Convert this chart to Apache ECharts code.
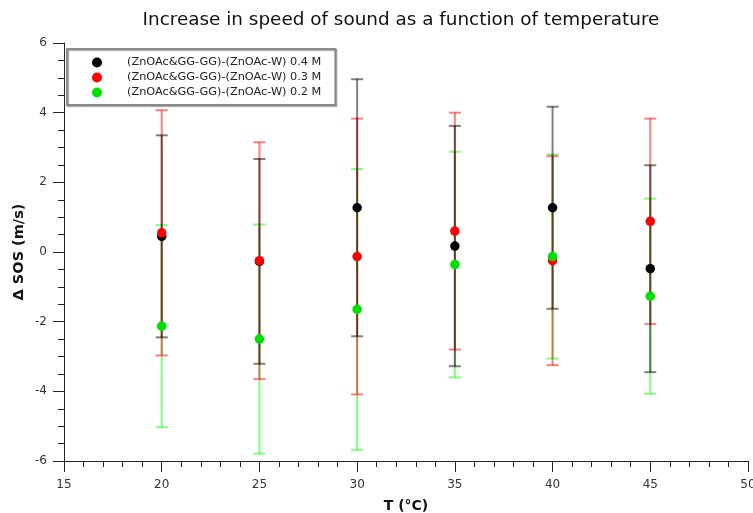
<!DOCTYPE html>
<html>
<head>
<meta charset="utf-8">
<script src="https://cdn.jsdelivr.net/npm/echarts@6/dist/echarts.min.js"></script>
<style>
html,body{margin:0;padding:0;background:#fff;}
#chart{width:753px;height:513px;}
</style>
</head>
<body>
<div id="chart"></div>
<script>
// ---- data ----
var temperatures = [20, 25, 30, 35, 40, 45];
var seriesNames = [
  '(ZnOAc&GG-GG)-(ZnOAc-W) 0.4 M',
  '(ZnOAc&GG-GG)-(ZnOAc-W) 0.3 M',
  '(ZnOAc&GG-GG)-(ZnOAc-W) 0.2 M'
];
var sos04 = [0.45, -0.27, 1.27, 0.17, 1.27, -0.48];
var err04 = [2.90, 2.94, 3.69, 3.45, 2.90, 2.97];
var sos03 = [0.55, -0.25, -0.13, 0.60, -0.25, 0.88];
var err03 = [3.52, 3.40, 3.96, 3.40, 3.00, 2.95];
var sos02 = [-2.13, -2.50, -1.65, -0.36, -0.13, -1.27];
var err02 = [2.90, 3.29, 4.03, 3.24, 2.93, 2.80];
var xTicks = { min: 15, max: 50, interval: 5 };
var yTicks = { min: -6, max: 6, interval: 2 };

var FONT = '"DejaVu Sans", Verdana, sans-serif';
var pointColors = ['#000000', '#ff0000', '#00e000'];
var barColors = ['rgba(0,0,0,0.5)', 'rgba(255,0,0,0.5)', 'rgba(0,255,0,0.5)'];
var values = [sos04, sos03, sos02];
var errors = [err04, err03, err02];

function errData(v, e) {
  return temperatures.map(function (t, i) { return [t, v[i] - e[i], v[i] + e[i]]; });
}
function ptData(v) {
  return temperatures.map(function (t, i) { return [t, v[i]]; });
}

var series = [];
// error bars: green first, then red, then black on top
[2, 1, 0].forEach(function (k) {
  var v = values[k];
  series.push({
    type: 'custom',
    name: seriesNames[k] + ' err',
    z: 2,
    silent: true,
    data: errData(v, errors[k]),
    renderItem: function (params, api) {
      var x = api.value(0);
      var lo = api.coord([x, api.value(1)]);
      var hi = api.coord([x, api.value(2)]);
      var hw = 6;
      var st = { stroke: barColors[k], lineWidth: 2, fill: null };
      return {
        type: 'group',
        children: [
          { type: 'line', shape: { x1: lo[0], y1: lo[1], x2: hi[0], y2: hi[1] }, style: st },
          { type: 'line', shape: { x1: hi[0] - hw, y1: hi[1], x2: hi[0] + hw, y2: hi[1] }, style: st },
          { type: 'line', shape: { x1: lo[0] - hw, y1: lo[1], x2: lo[0] + hw, y2: lo[1] }, style: st }
        ]
      };
    }
  });
});
values.forEach(function (v, k) {
  series.push({
    type: 'scatter',
    name: seriesNames[k],
    z: 5,
    symbol: 'circle',
    symbolSize: 9.5,
    itemStyle: { color: pointColors[k], opacity: 1 },
    data: ptData(v)
  });
});

var chart = echarts.init(document.getElementById('chart'), null, { renderer: 'canvas' });
chart.setOption({
  animation: false,
  backgroundColor: '#ffffff',
  title: {
    text: 'Increase in speed of sound as a function of temperature',
    left: 396,
    textAlign: 'center',
    top: 6,
    textStyle: { fontFamily: FONT, fontSize: 18.4, fontWeight: 'normal', color: '#111' }
  },
  legend: {
    data: seriesNames,
    orient: 'vertical',
    left: 67,
    top: 49,
    padding: [8, 14, 7, 25],
    itemGap: 4,
    itemWidth: 10,
    itemHeight: 10,
    icon: 'circle',
    backgroundColor: '#fff',
    borderColor: '#8a8a8a',
    borderWidth: 2,
    shadowColor: 'rgba(0,0,0,0.35)',
    shadowOffsetX: 1,
    shadowOffsetY: 1,
    shadowBlur: 1,
    textStyle: { fontFamily: FONT, fontSize: 11.3, color: '#222', padding: [0, 0, 0, 20] }
  },
  grid: { left: 64, right: 5, top: 43, bottom: 52, containLabel: false, outerBoundsMode: 'none' },
  xAxis: {
    type: 'value',
    min: xTicks.min, max: xTicks.max, interval: xTicks.interval,
    name: 'T (°C)',
    nameLocation: 'middle',
    nameGap: 38,
    nameMoveOverlap: false,
    nameTextStyle: { fontFamily: FONT, fontSize: 14, fontWeight: 'bold', color: '#111' },
    axisLine: { onZero: false, lineStyle: { color: '#222', width: 1 } },
    axisTick: { show: true, length: 11, lineStyle: { color: '#222' } },
    minorTick: { show: true, splitNumber: 5, length: 6, lineStyle: { color: '#222' } },
    axisLabel: { fontFamily: FONT, fontSize: 12, color: '#333', margin: 18 },
    splitLine: { show: false },
    minorSplitLine: { show: false }
  },
  yAxis: {
    type: 'value',
    min: yTicks.min, max: yTicks.max, interval: yTicks.interval,
    name: 'Δ SOS (m/s)',
    nameLocation: 'middle',
    nameGap: 37,
    nameMoveOverlap: false,
    nameTextStyle: { fontFamily: FONT, fontSize: 14.5, fontWeight: 'bold', color: '#111' },
    axisLine: { show: true, onZero: false, lineStyle: { color: '#222', width: 1 } },
    axisTick: { show: true, length: 11, lineStyle: { color: '#222' } },
    minorTick: { show: true, splitNumber: 4, length: 6, lineStyle: { color: '#222' } },
    axisLabel: { fontFamily: FONT, fontSize: 12, color: '#333', margin: 17 },
    splitLine: { show: false },
    minorSplitLine: { show: false }
  },
  series: series
});
</script>
</body>
</html>
